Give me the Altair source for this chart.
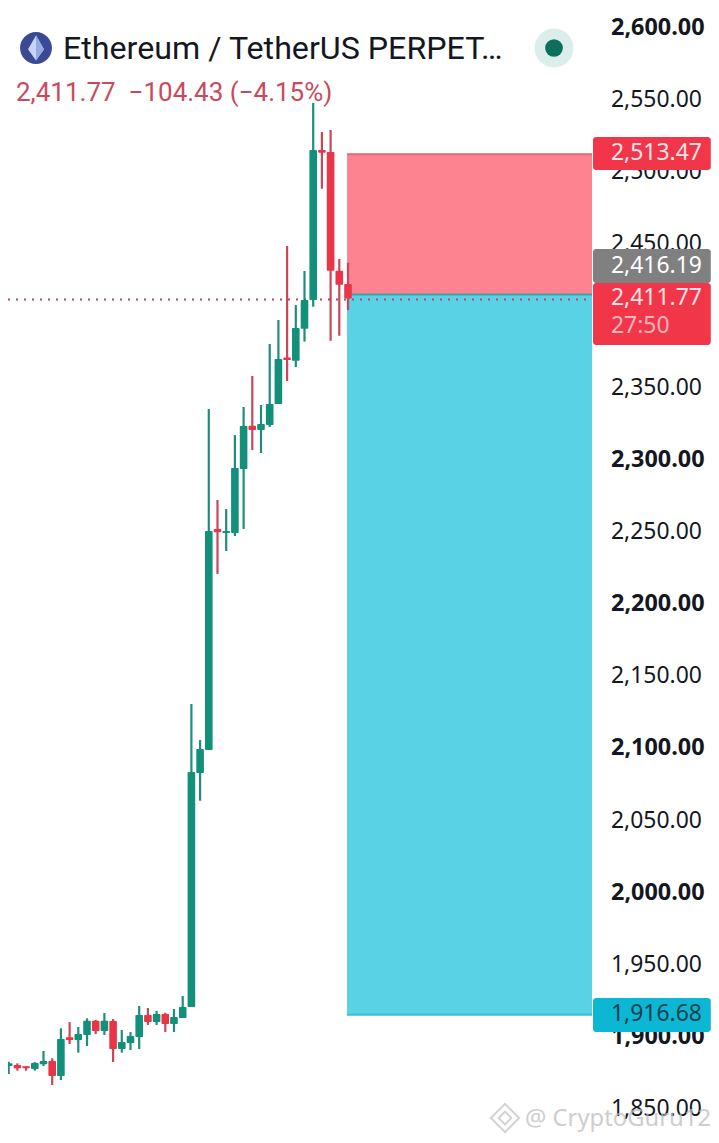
import altair as alt
import pandas as pd

opens = [1882.0,1879.4,1880.1,1879.2,1877.4,1880.6,1882.9,1872.5,1899.4,1897.5,1901.0,1910.9,1903.7,1910.7,1891.2,1895.4,1899.6,1914.8,1910.0,1915.5,1908.6,1912.7,1920.4,2082.6,2098.6,2251.9,2249.1,2249.1,2293.5,2323.5,2320.5,2324.0,2338.6,2370.9,2368.6,2390.8,2410.7,2514.7,2513.3,2431.0,2421.8]
highs = [1882.9,1882.4,1881.3,1879.4,1882.2,1889.9,1884.8,1905.6,1910.0,1906.5,1912.5,1911.4,1916.2,1912.0,1904.4,1903.0,1921.1,1919.7,1917.6,1916.4,1919.0,1928.0,2130.5,2105.5,2335.1,2272.0,2265.7,2317.0,2336.5,2358.0,2337.9,2380.2,2396.8,2448.1,2407.2,2430.8,2547.3,2527.2,2528.6,2439.1,2436.5]
lows = [1878.6,1873.9,1876.2,1876.2,1876.2,1879.4,1866.3,1869.7,1894.7,1888.7,1893.3,1901.6,1901.0,1882.2,1888.7,1890.5,1891.2,1907.9,1907.9,1903.0,1903.0,1912.7,1920.4,2063.4,2098.6,2220.7,2236.6,2247.0,2251.9,2306.6,2304.6,2322.6,2338.6,2354.5,2364.2,2381.8,2406.0,2487.9,2382.4,2385.9,2403.7]
closes = [1879.0,1881.3,1877.9,1877.9,1881.5,1882.9,1872.5,1898.2,1897.5,1901.6,1910.9,1903.7,1910.9,1891.2,1896.1,1900.3,1914.8,1910.0,1915.5,1908.6,1913.4,1920.4,2083.3,2099.3,2250.5,2249.6,2250.5,2294.2,2323.3,2320.5,2324.7,2338.6,2369.8,2369.1,2391.3,2410.7,2514.7,2512.8,2431.0,2421.3,2411.8]

tick_values = [1850 + 50 * k for k in range(16)]
bold_ticks = [1900, 2000, 2100, 2200, 2300, 2600]

stop_price = 2513.47
entry_price = 2416.19
last_price = 2411.77
target_price = 1916.68

tag_labels = ["2,513.47", "2,416.19", "2,411.77", "27:50", "1,916.68"]
tag_text_prices = [2512.3, 2434.2, 2412.1, 2392.6, 1915.5]
tag_text_colors = ["#FDE3E6", "#FFFFFF", "#FDE3E6", "#F9B4BC", "#12404F"]
tag_tops = [2523.7, 2446.0, 2422.5, 1926.6]
tag_bottoms = [2500.8, 2422.5, 2379.5, 1903.0]
tag_colors = ["#F2364A", "#808080", "#F2364A", "#0BB7D3"]

title_text = "Ethereum / TetherUS PERPET…"
quote_text = "2,411.77\u00a0\u00a0−104.43 (−4.15%)"
watermark_text = "@ CryptoGuru12"

WIDTH = 703
X_DOMAIN = [0.92, 0.92 + WIDTH / 8.7]
Y_DOMAIN = [1831.6, 2613.2]
BOX_X = 39.89
BOX_X2 = 68.05
TAG_X = 68.16
TAG_X2 = 81.7
TAG_TEXT_X = 70.23

xs = alt.Scale(domain=X_DOMAIN, nice=False, zero=False, padding=0)
ys = alt.Scale(domain=Y_DOMAIN, nice=False, zero=False)

def X(field):
    return alt.X(field, type="quantitative", scale=xs, axis=None)

def Y(field, axis=None):
    return alt.Y(field, type="quantitative", scale=ys, axis=axis)

candles = pd.DataFrame({"i": list(range(len(opens))), "open": opens, "high": highs, "low": lows, "close": closes})
candles["body_c"] = ["#12907A" if c >= o else "#EA3447" for o, c in zip(opens, closes)]
candles["wick_c"] = ["#1F8D7C" if c >= o else "#C9475A" for o, c in zip(opens, closes)]

zones = pd.DataFrame({
    "x": [BOX_X, BOX_X], "x2": [BOX_X2, BOX_X2],
    "top": [stop_price, entry_price], "bottom": [entry_price, target_price],
    "c": ["#FD8391", "#58D2E4"],
})

is_bold = f"indexof({bold_ticks}, datum.value) >= 0"
axis_layer = alt.Chart(pd.DataFrame({"x": [X_DOMAIN[0]], "y": [2600.0]})).mark_point(opacity=0).encode(
    x=X("x"),
    y=Y("y", axis=alt.Axis(
        orient="right", values=tick_values, format=",.2f", title=None,
        domain=False, ticks=False, grid=False, offset=-100.5, labelPadding=0,
        labelAlign="left", labelFont="Noto Sans",
        labelFontSize={"condition": {"test": is_bold, "value": 23.4}, "value": 22.9},
        labelColor="#131722", labelOverlap=False, labelFlush=False,
        labelFontWeight={"condition": {"test": is_bold, "value": "bold"}, "value": "normal"},
    )),
)

def lit(field):
    return alt.Color(field, type="nominal", scale=None, legend=None)

zone_layer = alt.Chart(zones).mark_rect(yOffset=2, y2Offset=2.5).encode(
    x=X("x"), x2="x2", y=Y("top"), y2="bottom", color=lit("c"))

edge_df = pd.DataFrame({"x": [BOX_X] * 3, "x2": [BOX_X2] * 3,
                        "p": [stop_price, entry_price, target_price],
                        "c": ["#E56A78", "#3F9FAE", "#3CBDD3"]})
edge_layer = alt.Chart(edge_df).mark_rule(strokeWidth=2, yOffset=2.5).encode(
    x=X("x"), x2="x2", y=Y("p"), color=lit("c"))

last_line = alt.Chart(pd.DataFrame({"x": [X_DOMAIN[0]], "x2": [BOX_X2], "p": [last_price]})).mark_rule(
    strokeDash=[2, 6], strokeWidth=2, color="#A5505E", yOffset=1).encode(x=X("x"), x2="x2", y=Y("p"))

wicks = alt.Chart(candles).mark_rule(strokeWidth=2.2, clip=True).encode(
    x=X("i"), y=Y("low"), y2="high", color=lit("wick_c"))
bodies = alt.Chart(candles).mark_bar(size=7.6, clip=True, cornerRadius=1).encode(
    x=X("i"), y=Y("open"), y2="close", color=lit("body_c"))

tags = alt.Chart(pd.DataFrame({"x": [TAG_X] * 4, "x2": [TAG_X2] * 4, "t": tag_tops, "b": tag_bottoms, "c": tag_colors})).mark_rect(cornerRadius=3).encode(
    x=X("x"), x2="x2", y=Y("t"), y2="b", color=lit("c"))

tag_texts = alt.Chart(pd.DataFrame({"x": [TAG_TEXT_X] * 5, "p": tag_text_prices, "t": tag_labels, "c": tag_text_colors})).mark_text(
    align="left", baseline="middle", font="Noto Sans", fontSize=22.9).encode(
    x=X("x"), y=Y("p"), text="t:N", color=lit("c"))

one = pd.DataFrame({"a": [0]})

def label(text, px, py, **kw):
    return alt.Chart(one).mark_text(text=text, align="left", baseline="middle", **kw).encode(
        x=alt.value(px), y=alt.value(py))

def dot(px, py, **kw):
    return alt.Chart(one).mark_point(filled=True, opacity=1, **kw).encode(x=alt.value(px), y=alt.value(py))

title = label(title_text, 55, 41, font="Roboto", fontSize=32.2, color="#131722")
quote = label(quote_text, 8, 85, font="Roboto", fontSize=26, color="#C84A5C")
icon = dot(28, 40, shape="circle", size=1018, color="#3B4A93")
eth_a = dot(28, 40, shape="M0,-1L0.64,0.1L0,1L-0.64,0.1Z", size=625, color="#C6D5F7")
eth_b = dot(28, 40, shape="M0,-1L0.64,0.1L0,1Z", size=625, color="#95ABE8")
status_a = dot(546, 40, shape="circle", size=1520, color="#DCEEEB")
status_b = dot(546, 40, shape="circle", size=314, color="#0D6E5C")
wm_text = label(watermark_text, 517, 1111, font="Noto Sans", fontSize=23.8, color="#BDBDBD", opacity=0.75)
wm_logo = alt.Chart(one).mark_point(
    shape="M0,-1L1,0L0,1L-1,0ZM0,-0.45L0.45,0L0,0.45L-0.45,0Z", size=800, filled=False,
    stroke="#C8C8C8", strokeWidth=2, opacity=0.8).encode(x=alt.value(497), y=alt.value(1110))

chart = alt.layer(
    axis_layer, zone_layer, edge_layer, last_line, wicks, bodies, tags, tag_texts,
    title, quote, icon, eth_a, eth_b, status_a, status_b, wm_text, wm_logo,
).resolve_axis(y="independent").properties(
    width=WIDTH, height=1127, padding=0, background="#FFFFFF",
    autosize=alt.AutoSizeParams(type="none"),
).configure_view(stroke=None)

chart.save("out.html", embed_options={"renderer": "svg", "actions": False})
